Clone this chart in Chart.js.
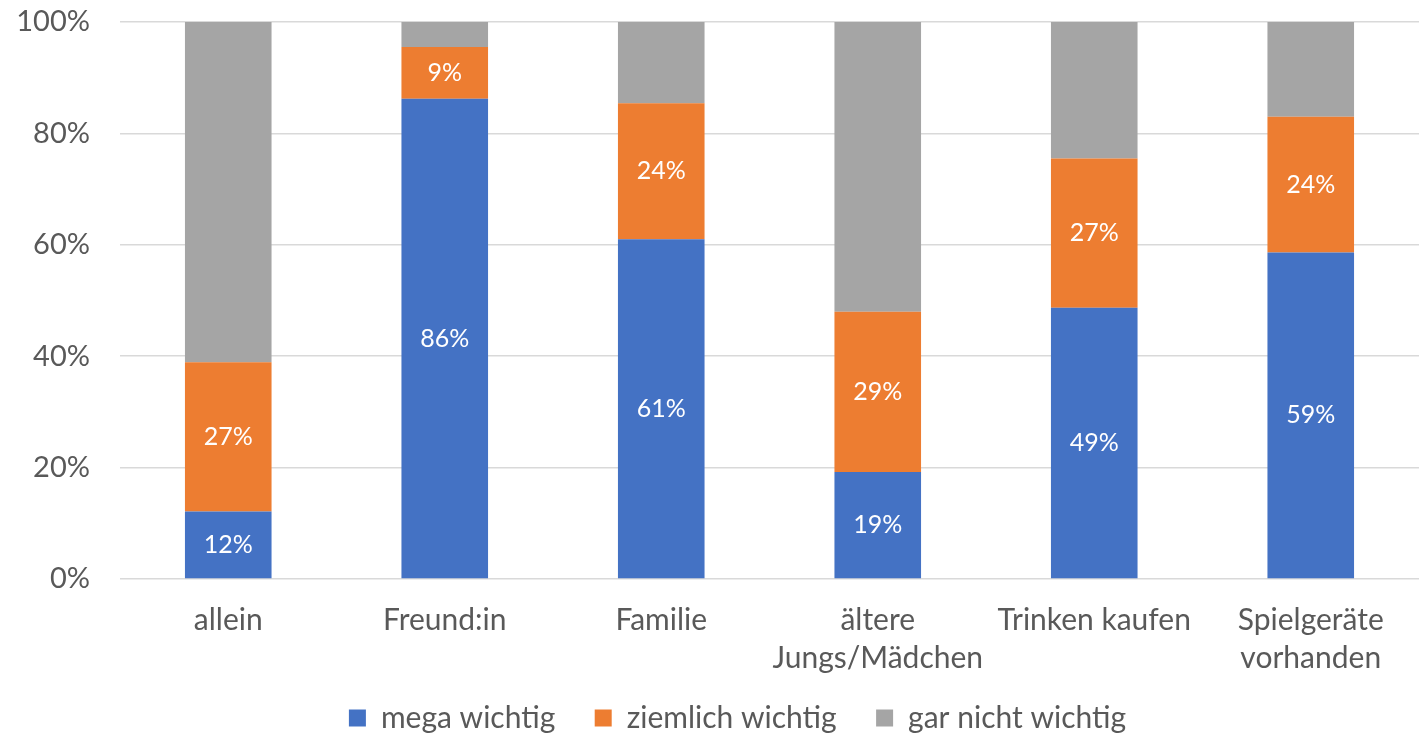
<!DOCTYPE html>
<html>
<head>
<meta charset="utf-8">
<script src="https://cdn.jsdelivr.net/npm/chart.js@4"></script>
<style>
  html, body { margin: 0; padding: 0; background: #fff; }
  #wrap { width: 1425px; height: 737px; }
</style>
</head>
<body>
<div id="wrap"><canvas id="canvas"></canvas></div>
<script>
// Daten
const kategorien = ["allein", "Freund:in", "Familie", ["ältere", "Jungs/Mädchen"], "Trinken kaufen", ["Spielgeräte", "vorhanden"]];
const megaWichtig = [12.1, 86.2, 61.0, 19.2, 48.7, 58.6];
const ziemlichWichtig = [26.8, 9.3, 24.4, 28.8, 26.8, 24.4];
const garNichtWichtig = [61.1, 4.5, 14.6, 52.0, 24.5, 17.0];
const yTicks = [0, 20, 40, 60, 80, 100];

const schrift = "Lato, 'Open Sans', sans-serif";

// Beschriftung in den Balken (nur blau und orange)
const balkenLabels = {
  id: "balkenLabels",
  afterDatasetsDraw(chart) {
    const ctx = chart.ctx;
    ctx.save();
    ctx.font = "25px " + schrift;
    ctx.fillStyle = "#ffffff";
    ctx.textAlign = "center";
    ctx.textBaseline = "middle";
    [0, 1].forEach((i) => {
      const meta = chart.getDatasetMeta(i);
      meta.data.forEach((bar, j) => {
        const v = chart.data.datasets[i].data[j];
        ctx.fillText(Math.round(v) + "%", bar.x, (bar.y + bar.base) / 2);
      });
    });
    ctx.restore();
  },
};

// Legende etwas flacher machen, damit sie tiefer sitzt
const legendeFlach = {
  id: "legendeFlach",
  afterInit(chart) {
    const lg = chart.legend;
    if (!lg) return;
    const orig = lg.fit.bind(lg);
    lg.fit = function () {
      orig();
      this.height -= 6;
    };
  },
};

const ctx = document.getElementById("canvas").getContext("2d");
window.myBar = new Chart(ctx, {
  type: "bar",
  data: {
    labels: kategorien,
    datasets: [
      { label: "mega wichtig", backgroundColor: "#4472C4", data: megaWichtig },
      { label: "ziemlich wichtig", backgroundColor: "#ED7D31", data: ziemlichWichtig },
      { label: "gar nicht wichtig", backgroundColor: "#A5A5A5", data: garNichtWichtig },
    ],
  },
  plugins: [balkenLabels, legendeFlach],
  options: {
    responsive: true,
    maintainAspectRatio: false,
    animation: false,
    layout: { padding: { top: 22, right: 6, left: 0, bottom: 0 } },
    datasets: { bar: { categoryPercentage: 1, barPercentage: 0.4 } },
    plugins: {
      tooltip: { enabled: false },
      legend: {
        position: "bottom",
        labels: {
          color: "#595959",
          font: { size: 30, family: schrift },
          boxWidth: 17,
          boxHeight: 17,
          padding: 1,
          generateLabels: (chart) => {
            const items = Chart.defaults.plugins.legend.labels.generateLabels(chart);
            items.forEach((it, i) => {
              if (i < items.length - 1) it.text = it.text + "     ";
            });
            // leerer Platzhalter, schiebt die Legende etwas nach rechts
            items.unshift({
              text: "   ",
              fillStyle: "rgba(0,0,0,0)",
              strokeStyle: "rgba(0,0,0,0)",
              lineWidth: 0,
              hidden: false,
              datasetIndex: -1,
            });
            return items;
          },
        },
      },
    },
    scales: {
      x: {
        stacked: true,
        grid: { display: false },
        border: { display: false },
        ticks: {
          color: "#595959",
          font: { size: 30, family: schrift, lineHeight: 1.27 },
          maxRotation: 0,
          autoSkip: false,
          padding: 14,
        },
        afterFit: (scale) => {
          scale.height = 123;
          scale.paddingTop = 0;
        },
      },
      y: {
        stacked: true,
        min: 0,
        max: 100,
        afterBuildTicks: (scale) => { scale.ticks = yTicks.map((v) => ({ value: v })); },
        grid: { color: "#D9D9D9", lineWidth: 1.5, drawTicks: false },
        border: { display: false },
        ticks: {
          color: "#595959",
          font: { size: 29, family: schrift },
          padding: 30,
          callback: (v) => v + "%",
        },
        afterFit: (scale) => {
          scale.width = 120;
          scale.paddingTop = 0;
          scale.paddingBottom = 0;
        },
      },
    },
  },
});
</script>
</body>
</html>
